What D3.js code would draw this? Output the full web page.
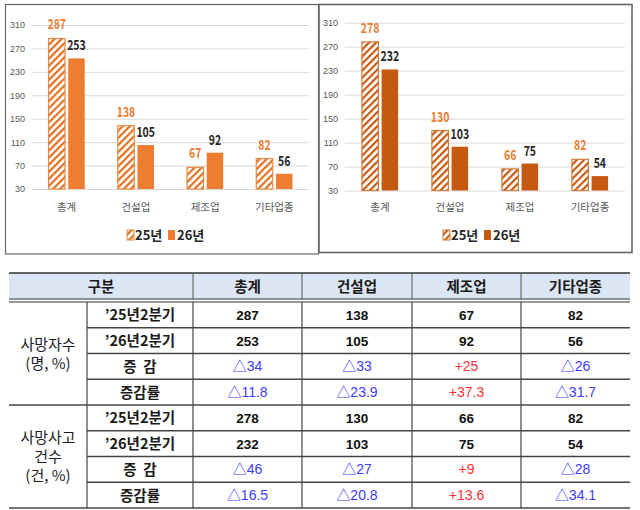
<!DOCTYPE html>
<html><head><meta charset="utf-8">
<script src="https://cdn.jsdelivr.net/npm/d3@7/dist/d3.min.js"></script>
<style>
html,body{margin:0;padding:0;background:#fff;}
svg{display:block;font-family:"Noto Sans CJK KR","Noto Sans",sans-serif;}
</style></head>
<body><svg id="c" width="640" height="510"></svg>
<script>
// ---- data ----
const categories = ["총계", "건설업", "제조업", "기타업종"];
const deaths25 = [287, 138, 67, 82];
const deaths26 = [253, 105, 92, 56];
const accidents25 = [278, 130, 66, 82];
const accidents26 = [232, 103, 75, 54];
const yTicks = [30, 70, 110, 150, 190, 230, 270, 310];
const legendLabels = ["25년", "26년"];

const tableHeader = ["구분", "총계", "건설업", "제조업", "기타업종"];
const rowLabels = ["’25년2분기", "’26년2분기", "증\u00A0\u00A0감", "증감률"];
const deathsDiff = ["△34", "△33", "+25", "△26"];
const deathsRate = ["△11.8", "△23.9", "+37.3", "△31.7"];
const accidentsDiff = ["△46", "△27", "+9", "△28"];
const accidentsRate = ["△16.5", "△20.8", "+13.6", "△34.1"];
const groupLabels = [["사망자수", "(명, %)"], ["사망사고", "건수", "(건, %)"]];

const svg = d3.select("#c");
const defs = svg.append("defs");

function hatch(id, color) {
  const p = defs.append("pattern").attr("id", id).attr("patternUnits", "userSpaceOnUse")
    .attr("width", 5).attr("height", 5).attr("patternTransform", "rotate(45)");
  p.append("rect").attr("width", 5).attr("height", 5).attr("fill", "#fff");
  p.append("rect").attr("x", 0).attr("y", 0).attr("width", 2.2).attr("height", 5).attr("fill", color);
}
hatch("h1", "#E0711F");
hatch("h2", "#C55A11");

// panel borders
svg.append("rect").attr("x", 5.5).attr("y", 4.5).attr("width", 313).attr("height", 249.5)
  .attr("fill", "none").attr("stroke", "#666").attr("stroke-width", 1.2);
svg.append("rect").attr("x", 319).attr("y", 4.5).attr("width", 313).attr("height", 248)
  .attr("fill", "none").attr("stroke", "#666").attr("stroke-width", 1.6);

function valueLabel(sel, color) {
  sel.attr("text-anchor", "middle").attr("fill", color)
    .style("font-size", "14px").style("font-weight", "bold")
    .attr("textLength", d => String(d).length * 6.2).attr("lengthAdjust", "spacingAndGlyphs")
    .text(d => d);
}

function chart(opt) {
  const g = svg.append("g");
  const y = d3.scaleLinear().domain([30, 310]).range([opt.y0, opt.y1]);
  const x = d3.scaleBand().domain(categories).range([opt.x0, opt.x1]).paddingInner(0).paddingOuter(0);
  const ax = g.append("g").attr("transform", `translate(${opt.x0},0)`)
    .call(d3.axisLeft(y).tickValues(yTicks).tickSize(-(opt.x1 - opt.x0)).tickPadding(7).tickFormat(d3.format("d")));
  ax.select(".domain").remove();
  ax.selectAll(".tick line").attr("stroke", "#D9D9D9").attr("stroke-width", 1);
  ax.selectAll(".tick text").attr("fill", "#595959").style("font-size", "9px")
    .style("font-family", "'Liberation Sans Narrow','Liberation Sans',sans-serif");

  const bw = 16.5, gap = 1.6;
  g.selectAll(".b25").data(opt.v25).enter().append("rect")
    .attr("x", (d, i) => x(categories[i]) + x.bandwidth() / 2 - gap - bw)
    .attr("y", d => y(d)).attr("width", bw).attr("height", d => y(30) - y(d))
    .attr("fill", `url(#${opt.hatch})`).attr("stroke", opt.hstroke).attr("stroke-width", 1.2);
  g.selectAll(".b26").data(opt.v26).enter().append("rect")
    .attr("x", (d, i) => x(categories[i]) + x.bandwidth() / 2 + gap)
    .attr("y", d => y(d)).attr("width", bw).attr("height", d => y(30) - y(d))
    .attr("fill", opt.c26);
  g.selectAll(".l25").data(opt.v25).enter().append("text")
    .attr("x", (d, i) => x(categories[i]) + x.bandwidth() / 2 - gap - bw / 2)
    .attr("y", d => y(d) - 9).call(valueLabel, opt.l25);
  g.selectAll(".l26").data(opt.v26).enter().append("text")
    .attr("x", (d, i) => x(categories[i]) + x.bandwidth() / 2 + gap + bw / 2)
    .attr("y", d => y(d) - 8).call(valueLabel, "#262626");
  g.selectAll(".cat").data(categories).enter().append("text")
    .attr("x", d => x(d) + x.bandwidth() / 2).attr("y", 211).attr("text-anchor", "middle")
    .attr("fill", "#595959").style("font-size", "10.5px").text(d => d);
  const lg = g.append("g").attr("transform", `translate(${opt.lx},0)`);
  lg.append("rect").attr("x", 0).attr("y", 230).attr("width", 7).attr("height", 10)
    .attr("fill", `url(#${opt.hatch})`).attr("stroke", opt.hstroke).attr("stroke-width", 1);
  lg.append("text").attr("x", 8).attr("y", 240).attr("fill", "#262626")
    .style("font-size", "13px").style("font-weight", "bold").text(legendLabels[0]);
  lg.append("rect").attr("x", 41).attr("y", 230).attr("width", 7).attr("height", 10).attr("fill", opt.c26);
  lg.append("text").attr("x", 50).attr("y", 240).attr("fill", "#262626")
    .style("font-size", "13px").style("font-weight", "bold").text(legendLabels[1]);
}

chart({x0: 32, x1: 309, y0: 189, y1: 25, v25: deaths25, v26: deaths26,
  hatch: "h1", hstroke: "#E68A45", c26: "#ED7D31", l25: "#ED7D31", lx: 127});
chart({x0: 345, x1: 625, y0: 190.5, y1: 22.7, v25: accidents25, v26: accidents26,
  hatch: "h2", hstroke: "#D07A3A", c26: "#C65911", l25: "#ED7D31", lx: 443});

// ---- table ----
const colX = [9, 87, 193, 302, 412, 521, 630];
const tTop = 273, hBot = 299, bTop = 302;
const rh = (508 - bTop) / 8;
const t = svg.append("g");
t.append("rect").attr("x", colX[0]).attr("y", tTop).attr("width", colX[6] - colX[0]).attr("height", hBot - tTop)
  .attr("fill", "#DCE5F3");
const line = (x1, y1, x2, y2, w, c) => t.append("line").attr("x1", x1).attr("y1", y1).attr("x2", x2).attr("y2", y2)
  .attr("stroke", c || "#333").attr("stroke-width", w || 1);
line(colX[0], tTop, colX[6], tTop, 1.5);
line(colX[0], hBot, colX[6], hBot, 1.2);
line(colX[0], bTop, colX[6], bTop, 1.2);
[2, 3, 4, 5].forEach(i => line(colX[i], tTop, colX[i], hBot, 1, "#555"));
[1, 2, 3, 4, 5].forEach(i => line(colX[i], bTop, colX[i], 508, 1.2, "#444"));
for (let r = 1; r <= 8; r++) {
  const yy = bTop + r * rh;
  const full = (r === 4 || r === 8);
  line(full ? colX[0] : colX[1], yy, colX[6], yy, 1.5, "#444");
}
const headCenters = [(colX[0] + colX[2]) / 2, (colX[2] + colX[3]) / 2, (colX[3] + colX[4]) / 2, (colX[4] + colX[5]) / 2, (colX[5] + colX[6]) / 2];
t.selectAll(".ht").data(tableHeader).enter().append("text")
  .attr("x", (d, i) => headCenters[i]).attr("y", (tTop + hBot) / 2 + 5.5).attr("text-anchor", "middle")
  .attr("fill", "#1a1a1a").style("font-size", "14.5px").style("font-weight", "bold").text(d => d);

const groups = [
  [deaths25.map(String), deaths26.map(String), deathsDiff, deathsRate],
  [accidents25.map(String), accidents26.map(String), accidentsDiff, accidentsRate]
];
groups.forEach((rows, gi) => {
  const gTop = bTop + gi * 4 * rh;
  const lbl = groupLabels[gi];
  const cy = gTop + 2 * rh;
  lbl.forEach((s, k) => {
    t.append("text").attr("x", (colX[0] + colX[1]) / 2)
      .attr("y", cy + (k - (lbl.length - 1) / 2) * 19 + 5.5).attr("text-anchor", "middle")
      .attr("fill", "#1a1a2a").style("font-size", "15px").text(s);
  });
  rows.forEach((vals, ri) => {
    const ry = gTop + ri * rh + rh / 2;
    t.append("text").attr("x", (colX[1] + colX[2]) / 2).attr("y", ry + 5.5).attr("text-anchor", "middle")
      .attr("fill", "#1a1a1a").style("font-size", "14.5px").style("font-weight", "bold")
      .text(rowLabels[ri]);
    vals.forEach((v, ci) => {
      const isNum = ri < 2;
      const col = isNum ? "#111" : (v.startsWith("+") ? "#FF3030" : "#3C3CFF");
      t.append("text").attr("x", (colX[ci + 2] + colX[ci + 3]) / 2).attr("y", ry + 5)
        .attr("text-anchor", "middle").attr("fill", col)
        .style("font-size", isNum ? "13.5px" : "14px").style("font-weight", isNum ? "bold" : "normal")
        .style("font-family", "'Liberation Sans','Noto Sans CJK KR',sans-serif")
        .text(v);
    });
  });
});
</script></body></html>
